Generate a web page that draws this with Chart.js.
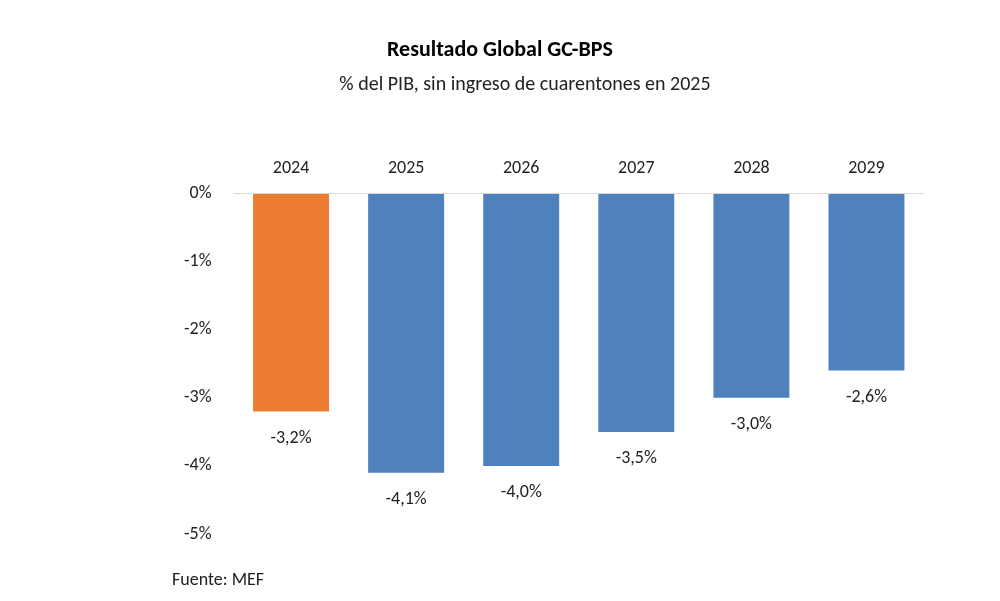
<!DOCTYPE html>
<html><head><meta charset="utf-8">
<script src="https://cdn.jsdelivr.net/npm/chart.js@4"></script>
<style>html,body{margin:0;background:#fff}#c{width:1000px;height:601px}</style>
</head><body>
<div id="c"><canvas id="chart"></canvas></div>
<script>
var years = ["2024", "2025", "2026", "2027", "2028", "2029"];
var resultado = [-3.2, -4.1, -4.0, -3.5, -3.0, -2.6];
var barColors = ["#ED7D31", "#4F81BD", "#4F81BD", "#4F81BD", "#4F81BD", "#4F81BD"];
var yTicks = [0, -1, -2, -3, -4, -5];

var font = "Calibri, Carlito, 'Open Sans', sans-serif";

// titulo, etiquetas y fuente
var extras = {
    id: "extras",
    afterDraw: function (chart) {
        var ctx = chart.ctx;
        ctx.save();
        ctx.fillStyle = "#000";
        ctx.textAlign = "center";
        ctx.textBaseline = "middle";
        ctx.font = "bold 22px " + font;
        ctx.fillText("Resultado Global GC-BPS", 500, 50);
        ctx.font = "20px " + font;
        ctx.fillStyle = "#222";
        ctx.fillText("% del PIB, sin ingreso de cuarentones en 2025", 525, 85);
        var meta = chart.getDatasetMeta(0);
        ctx.font = "18px " + font;
        meta.data.forEach(function (bar, i) {
            var txt = resultado[i].toFixed(1).replace(".", ",") + "%";
            ctx.fillText(txt, bar.x, bar.y + 27);
        });
        ctx.textAlign = "left";
        ctx.fillText("Fuente: MEF", 172, 580);
        ctx.restore();
    }
};

new Chart(document.getElementById("chart"), {
    type: "bar",
    data: {
        labels: years,
        datasets: [{
            data: resultado,
            backgroundColor: barColors,
            barPercentage: 0.66,
            categoryPercentage: 1
        }]
    },
    options: {
        responsive: true,
        maintainAspectRatio: false,
        animation: false,
        layout: { padding: { top: 152, left: 162, right: 76, bottom: 67 } },
        plugins: { legend: { display: false }, tooltip: { enabled: false } },
        scales: {
            x: {
                position: "top",
                grid: { display: false },
                border: { display: false },
                ticks: { color: "#222", font: { size: 18, family: font }, padding: 6 }
            },
            y: {
                min: -5, max: 0,
                afterBuildTicks: function (axis) { axis.ticks = yTicks.map(function (v) { return { value: v }; }); },
                grid: {
                    drawTicks: false,
                    color: function (c) { return c.tick && c.tick.value === 0 ? "#d9d9d9" : "rgba(0,0,0,0)"; }
                },
                border: { display: false },
                ticks: {
                    color: "#222", padding: 22,
                    font: { size: 18, family: font },
                    callback: function (v) { return v + "%"; }
                }
            }
        }
    },
    plugins: [extras]
});
</script>
</body></html>
